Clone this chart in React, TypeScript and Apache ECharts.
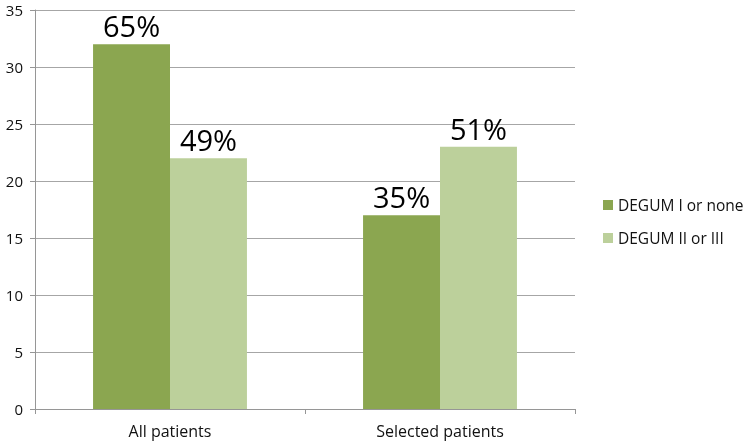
import React, { useEffect, useRef } from "react";
import * as echarts from "echarts";

const categories = ["All patients", "Selected patients"];
const seriesNames = ["DEGUM I or none", "DEGUM II or III"];
const degumINone = [32, 17];
const degumIIIII = [22, 23];
const degumINoneLabels = ["65%", "35%"];
const degumIIIIILabels = ["49%", "51%"];
const colors = ["#8BA650", "#BCD09B"];

export default function App() {
  const ref = useRef<HTMLDivElement>(null);
  useEffect(() => {
    if (!ref.current) return;
    const chart = echarts.init(ref.current, undefined, { renderer: "svg" });
    const font = "'Open Sans', 'Noto Sans', sans-serif";
    const mk = (name: string, data: number[], labels: string[], color: string) => ({
      name,
      type: "bar",
      data,
      barGap: "0%",
      barCategoryGap: "43%",
      itemStyle: { color },
      label: {
        show: true,
        position: "top",
        distance: 4,
        fontSize: 29,
        color: "#000",
        fontFamily: font,
        formatter: (p: any) => labels[p.dataIndex],
      },
    });
    chart.setOption({
      animation: false,
      textStyle: { fontFamily: font },
      grid: { left: 35, right: 174, top: 10, bottom: 34, containLabel: false },
      legend: {
        orient: "vertical",
        left: 598,
        top: 192,
        itemWidth: 10,
        itemHeight: 10,
        itemGap: 17,
        icon: "rect",
        textStyle: { fontSize: 15.5, color: "#111", fontFamily: font },
        data: seriesNames,
      },
      xAxis: {
        type: "category",
        data: categories,
        axisLine: { lineStyle: { color: "#969696" } },
        axisTick: { show: true, length: 5, lineStyle: { color: "#969696" } },
        axisLabel: { fontSize: 16, color: "#111", margin: 14 },
      },
      yAxis: {
        type: "value",
        min: 0,
        max: 35,
        interval: 5,
        axisLine: { show: true, lineStyle: { color: "#969696" } },
        axisTick: { show: true, length: 5, lineStyle: { color: "#969696" } },
        axisLabel: { fontSize: 15, lineHeight: 14, color: "#111", margin: 12 },
        splitLine: { lineStyle: { color: "#a6a6a6" } },
      },
      series: [
        mk(seriesNames[0], degumINone, degumINoneLabels, colors[0]),
        mk(seriesNames[1], degumIIIII, degumIIIIILabels, colors[1]),
      ],
    });
    return () => chart.dispose();
  }, []);
  return <div ref={ref} style={{ position: "fixed", left: 0, top: 0, width: 749, height: 443 }} />;
}
